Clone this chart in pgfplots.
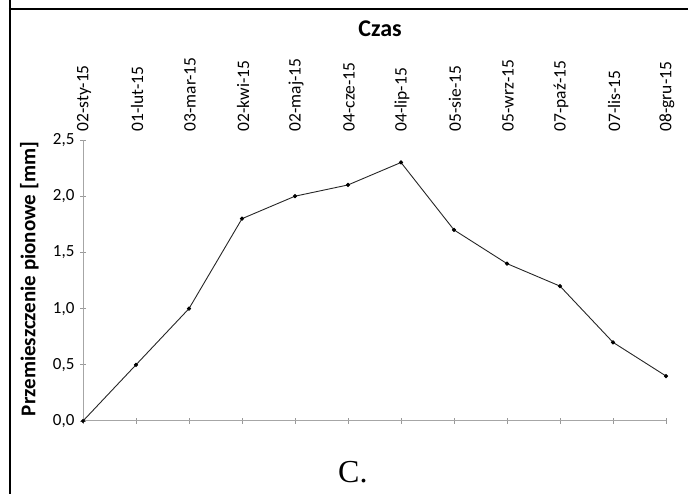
\documentclass[border=0pt]{standalone}
\usepackage{fontspec}
\setmainfont{Carlito}
\newfontfamily\serifC{Liberation Serif}
\usepackage{pgfplots}
\pgfplotsset{compat=1.18}
\begin{document}
\begin{tikzpicture}[x=1pt,y=1pt]
\useasboundingbox (0,0) rectangle (688,494);
\draw[line width=2.5pt] (10,0) -- (10,494);
\draw[line width=2.5pt] (8.75,485) -- (688,485);
\node[anchor=base, font=\bfseries\fontsize{24}{28}\selectfont] at (380,457) {Czas};
\node[rotate=90, anchor=base, font=\bfseries\fontsize{21}{25}\selectfont] at (35.5,215) {Przemieszczenie pionowe [mm]};
\node[anchor=base west, inner sep=0pt, font=\serifC\fontsize{32}{36}\selectfont] at (338,11) {C.};
\begin{axis}[
  at={(83pt,73pt)}, anchor=south west,
  width=583pt, height=281pt, scale only axis,
  xmin=0, xmax=11, ymin=0, ymax=2.5,
  axis line style={draw=none},
  xtick={0,...,11},
  xticklabels={02-sty-15,01-lut-15,03-mar-15,02-kwi-15,02-maj-15,04-cze-15,04-lip-15,05-sie-15,05-wrz-15,07-paź-15,07-lis-15,08-gru-15},
  xtick pos=left, xticklabel pos=right,
  ytick={0,0.5,1,1.5,2,2.5},
  ytick pos=left, yticklabel pos=left,
  tick align=center,
  major tick length=6pt,
  major tick style={draw=gray!80, line width=0.8pt},
  xticklabel style={rotate=90, anchor=west, xshift=2pt, yshift=-1pt, font=\fontsize{17.5}{20}\selectfont},
  yticklabel style={xshift=-2pt, font=\fontsize{17}{20}\selectfont},
  /pgf/number format/.cd, use comma, fixed, fixed zerofill, precision=1, assume math mode=true,
]
\draw[gray!70, line width=1.3pt] (rel axis cs:0,0) -- (rel axis cs:1,0);
\draw[gray!70, line width=1.3pt] (rel axis cs:0,0) -- (rel axis cs:0,1);
\addplot[black!85, line width=0.9pt, mark=*, mark size=1.6pt, mark options={black}] coordinates {
(0,0) (1,0.5) (2,1.0) (3,1.8) (4,2.0) (5,2.1) (6,2.3) (7,1.7) (8,1.4) (9,1.2) (10,0.7) (11,0.4)
};
\end{axis}
\end{tikzpicture}
\end{document}
